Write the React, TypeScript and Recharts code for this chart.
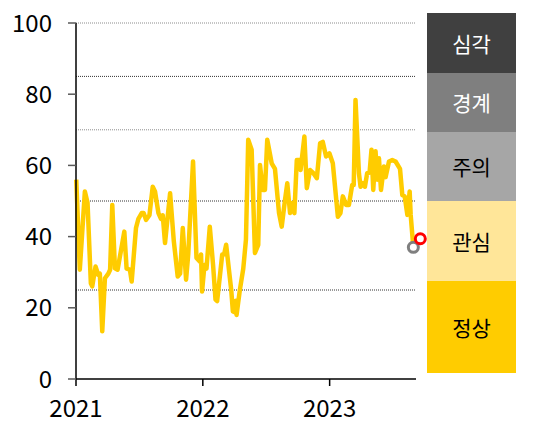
import React from "react";
import {
  LineChart,
  Line,
  XAxis,
  YAxis,
  ReferenceLine,
  ReferenceDot,
} from "recharts";

// time as decimal year
const times = [
  2021.002, 2021.03, 2021.07, 2021.091, 2021.117, 2021.128, 2021.154, 2021.175, 2021.188, 2021.207,
  2021.228, 2021.255, 2021.269, 2021.286, 2021.307, 2021.328, 2021.381, 2021.399, 2021.425, 2021.439,
  2021.473, 2021.492, 2021.518, 2021.534, 2021.552, 2021.579, 2021.605, 2021.623, 2021.65, 2021.67,
  2021.684, 2021.702, 2021.742, 2021.771, 2021.802, 2021.821, 2021.842, 2021.868, 2021.885, 2021.923,
  2021.95, 2021.976, 2021.986, 2021.994, 2022.013, 2022.029, 2022.055, 2022.081, 2022.1, 2022.113,
  2022.14, 2022.153, 2022.168, 2022.184, 2022.206, 2022.224, 2022.237, 2022.251, 2022.261, 2022.266,
  2022.292, 2022.319, 2022.34, 2022.358, 2022.385, 2022.411, 2022.437, 2022.451, 2022.472, 2022.49,
  2022.508, 2022.543, 2022.569, 2022.601, 2022.622, 2022.648, 2022.666, 2022.688, 2022.706, 2022.722,
  2022.741, 2022.761, 2022.771, 2022.801, 2022.82, 2022.846, 2022.872, 2022.899, 2022.925, 2022.946,
  2022.972, 2022.998, 2023.025, 2023.065, 2023.085, 2023.104, 2023.13, 2023.152, 2023.178, 2023.19,
  2023.204, 2023.231, 2023.244, 2023.263, 2023.278, 2023.296, 2023.315, 2023.33, 2023.344, 2023.362,
  2023.375, 2023.389, 2023.405, 2023.428, 2023.441, 2023.468, 2023.494, 2023.52, 2023.555, 2023.573,
  2023.592, 2023.613, 2023.631, 2023.639, 2023.66,
];

const index = [
  56, 30.7, 52.7, 49.5, 26.9, 26, 31.6, 29.3, 29.6, 13.4,
  28.3, 29.6, 30.7, 48.9, 31.1, 30.7, 41.4, 31, 30.7, 27.4,
  42.4, 45, 46.6, 46.6, 44.7, 46, 54, 52.7, 46.6, 45,
  46, 38.2, 52.2, 38.8, 28.8, 29.6, 42.4, 27.9, 35, 61.1,
  34, 33, 35, 24.6, 32, 31, 42.8, 32, 22.3, 21.9,
  30.7, 35, 35, 37.7, 30.7, 25, 19, 18.8, 22, 18,
  25, 31, 39.1, 67.2, 64.4, 35.4, 37.7, 60.1, 53.1, 53.1,
  67.2, 60.6, 59, 46.6, 42.8, 50.3, 55, 46.6, 49.4, 46.6,
  61.5, 61.5, 58.7, 68.1, 53.6, 58.7, 57.8, 56.4, 66.2, 66.6,
  62.5, 63.4, 60.6, 45.6, 46.6, 51.3, 48.9, 48.9, 54.5, 54.5,
  78.4, 57.8, 54, 55, 54, 57.8, 58, 64.4, 53.1, 64,
  56, 62, 53.1, 59.7, 56.7, 61.1, 61.5, 61.1, 59, 51.7,
  51.3, 46.1, 52.7, 46.1, 37,
];

const current = { t: 2023.715, v: 39.4 };

const yearTicks = [2021, 2022, 2023];
const valueTicks = [0, 20, 40, 60, 80, 100];
const thresholds = [25, 50, 70, 85, 100];
const levels = ["심각", "경계", "주의", "관심", "정상"];

const data = times.map((t, i) => ({ t, v: index[i] }));
const last = data[data.length - 1];

const font = "'Noto Sans CJK KR', 'Noto Sans', sans-serif";
const bandColors = ["#404040", "#7f7f7f", "#a6a6a6", "#ffe699", "#ffcc00"];
const bandText = ["#fff", "#fff", "#000", "#000", "#000"];
const bandHeights = [59.4, 59.3, 69, 79.7, 92];

export default function App() {
  return (
    <div style={{ position: "absolute", left: 0, top: 0, width: 547, height: 429, background: "#fff", fontFamily: font }}>
      <LineChart
        width={547}
        height={429}
        data={data}
        margin={{ top: 23, right: 131, left: 0, bottom: 0 }}
      >
        <XAxis
          dataKey="t"
          type="number"
          domain={[2021, 2023.681]}
          ticks={yearTicks}
          height={50}
          tickSize={7}
          tickMargin={14}
          axisLine={{ stroke: "#000", strokeWidth: 1.5 }}
          tickLine={{ stroke: "#000", strokeWidth: 1.5 }}
          tick={{ fontSize: 24, fill: "#000", fontFamily: font }}
        />
        <YAxis
          type="number"
          domain={[0, 100]}
          ticks={valueTicks}
          width={76}
          tickSize={8}
          tickMargin={16}
          axisLine={{ stroke: "#000", strokeWidth: 1.5 }}
          tickLine={{ stroke: "#595959", strokeWidth: 1.5 }}
          tick={{ fontSize: 24, fill: "#000", fontFamily: font }}
        />
        {thresholds.map((y) => (
          <ReferenceLine
            key={y}
            y={y}
            stroke={y === 100 || y === 70 ? "#8c8c8c" : "#333"}
            strokeDasharray="1 1"
            strokeWidth={1}
          />
        ))}
        <Line
          type="linear"
          dataKey="v"
          stroke="#ffcc00"
          strokeWidth={4.5}
          dot={false}
          strokeLinejoin="round"
          isAnimationActive={false}
        />
        <ReferenceDot
          x={last.t}
          y={last.v}
          r={5}
          fill="#fff"
          stroke="#7f7f7f"
          strokeWidth={3}
          ifOverflow="visible"
        />
        <ReferenceDot
          x={current.t}
          y={current.v}
          r={5}
          fill="#fff"
          stroke="#ff0000"
          strokeWidth={3}
          ifOverflow="visible"
        />
      </LineChart>
      <div style={{ position: "absolute", left: 427, top: 13.3, width: 89 }}>
        {levels.map((name, i) => (
          <div
            key={name}
            style={{
              height: bandHeights[i],
              background: bandColors[i],
              color: bandText[i],
              display: "flex",
              alignItems: "center",
              justifyContent: "center",
              fontSize: 21,
            }}
          >
            {name}
          </div>
        ))}
      </div>
    </div>
  );
}
